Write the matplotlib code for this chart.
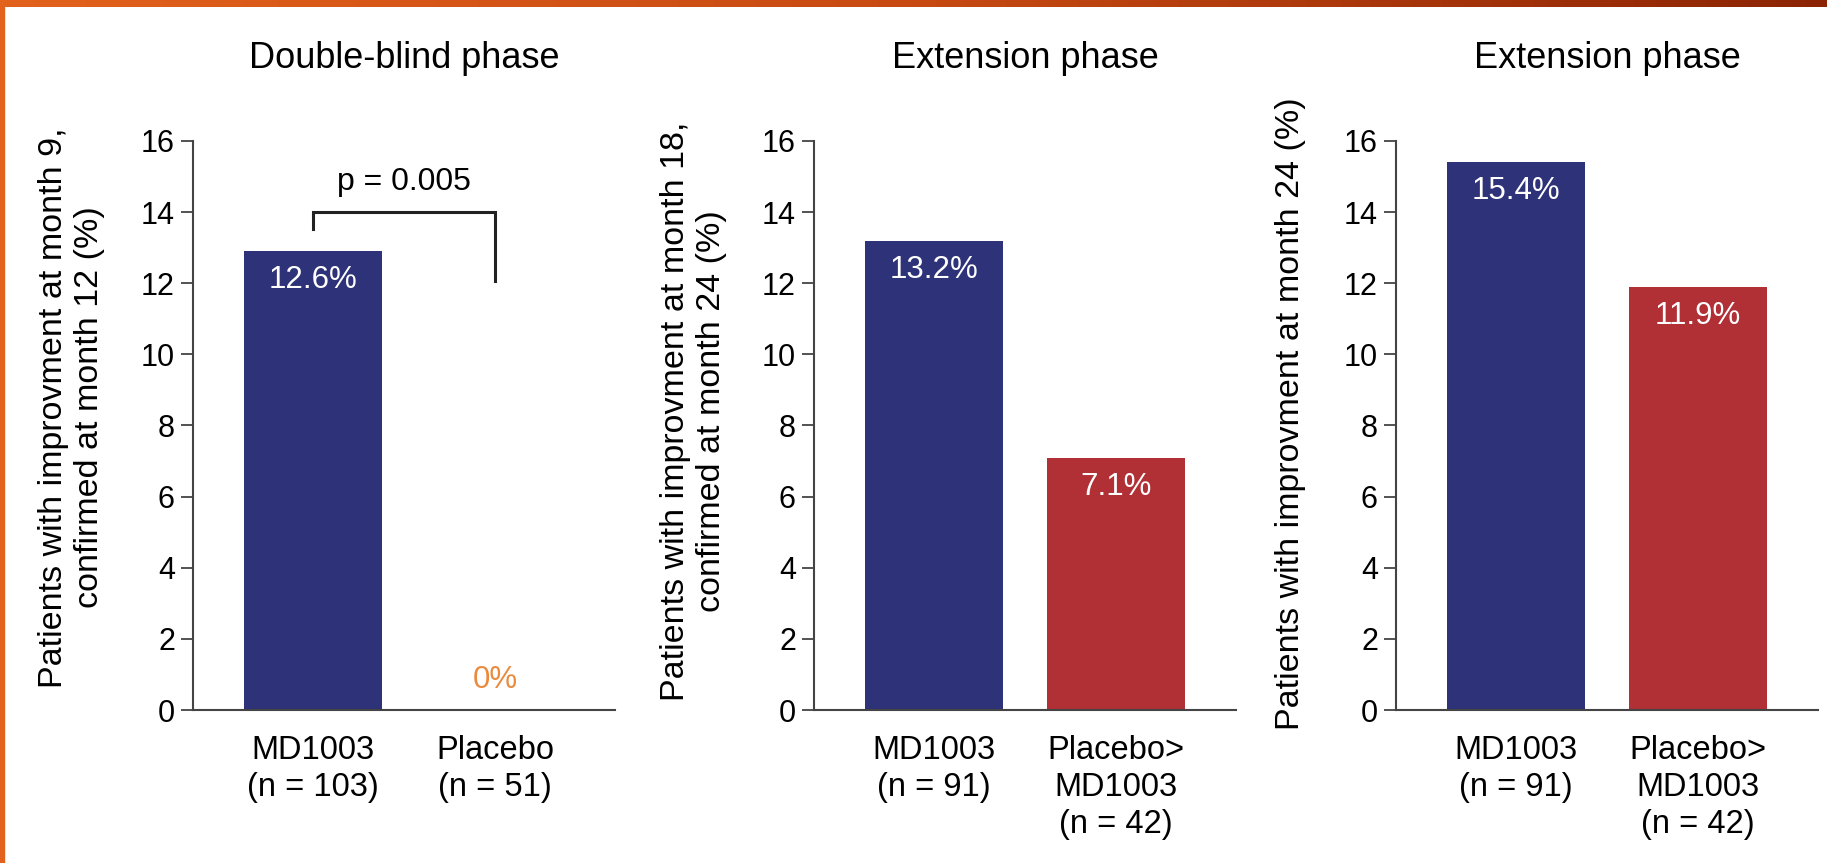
import numpy as np
import matplotlib
matplotlib.use("Agg")
import matplotlib.pyplot as plt
from matplotlib.patches import Rectangle

plt.rcParams['font.family'] = ['Liberation Sans', 'DejaVu Sans']

# data
titles = ["Double-blind phase", "Extension phase", "Extension phase"]
ylabels = ["Patients with improvment at month 9,\nconfirmed at month 12 (%)",
           "Patients with improvment at month 18,\nconfirmed at month 24 (%)",
           "Patients with improvment at month 24 (%)"]
cats = [["MD1003\n(n = 103)", "Placebo\n(n = 51)"],
        ["MD1003\n(n = 91)", "Placebo>\nMD1003\n(n = 42)"],
        ["MD1003\n(n = 91)", "Placebo>\nMD1003\n(n = 42)"]]
heights = [[12.9, 0.0], [13.2, 7.1], [15.4, 11.9]]
value_labels = [["12.6%", "0%"], ["13.2%", "7.1%"], ["15.4%", "11.9%"]]
p_text = "p = 0.005"

navy = "#2e3278"
red = "#b03036"
orange = "#ea8a3c"
bar_colors = [[navy, None], [navy, red], [navy, red]]

fig = plt.figure(figsize=(18.27, 8.63), dpi=100)

# orange frame strip (top + left)
grad = np.linspace(0, 1, 256).reshape(1, -1)
cmap = matplotlib.colors.LinearSegmentedColormap.from_list("edge", ["#e2611c", "#c84a12", "#8c2404"])
axb = fig.add_axes([0, 1 - 7 / 863, 1, 7 / 863])
axb.imshow(grad, aspect="auto", cmap=cmap)
axb.axis("off")
fig.patches.append(Rectangle((0, 0), 4 / 1827, 1, transform=fig.transFigure, color="#e2611c", zorder=0))

lefts = [193, 814, 1396]
lab_x = [-0.287, -0.286, -0.249]
lab_y = [0.532, 0.525, 0.52]
bottom = 1 - 710 / 863
height = (710 - 141) / 863

for i in range(3):
    ax = fig.add_axes([lefts[i] / 1827, bottom, 422 / 1827, height])
    x = np.arange(2)
    for j in range(2):
        if bar_colors[i][j] is not None:
            ax.bar(x[j], heights[i][j], width=0.755, color=bar_colors[i][j], zorder=2)
        if heights[i][j] > 0:
            ax.annotate(value_labels[i][j], (x[j], heights[i][j]), xytext=(0, -29),
                        textcoords="offset pixels", ha="center", va="center",
                        color="white", fontsize=22.5)
        else:
            ax.annotate(value_labels[i][j], (x[j], 0), xytext=(0, 30),
                        textcoords="offset pixels", ha="center", va="center",
                        color=orange, fontsize=22.5)
    ax.set_xlim(-0.66, 1.66)
    ax.set_ylim(0, 16)
    ax.set_yticks(np.arange(0, 17, 2))
    ax.set_xticks(x)
    ax.set_xticklabels(cats[i], fontsize=23.5, linespacing=1.24, va="top")
    ax.tick_params(axis="x", length=0, pad=18)
    ax.tick_params(axis="y", length=9, width=1.3, color="#444444", labelsize=22, pad=4)
    for s in ["top", "right"]:
        ax.spines[s].set_visible(False)
    for s in ["left", "bottom"]:
        ax.spines[s].set_color("#444444")
        ax.spines[s].set_linewidth(1.5)
    ax.set_ylabel(ylabels[i], fontsize=24.5, linespacing=1.2, va="center")
    ax.yaxis.set_label_coords(lab_x[i], lab_y[i])
    ax.text(0.5, 1.145, titles[i], transform=ax.transAxes, ha="center", va="center", fontsize=26)

    if i == 0:
        ax.plot([0, 0, 1, 1], [13.53, 14.0, 14.0, 12.06], color="#222222", lw=2.2,
                solid_joinstyle="miter", zorder=3)
        ax.text(0.5, 14.85, p_text, ha="center", va="center", fontsize=23)

fig.savefig("out.png", dpi=100)
